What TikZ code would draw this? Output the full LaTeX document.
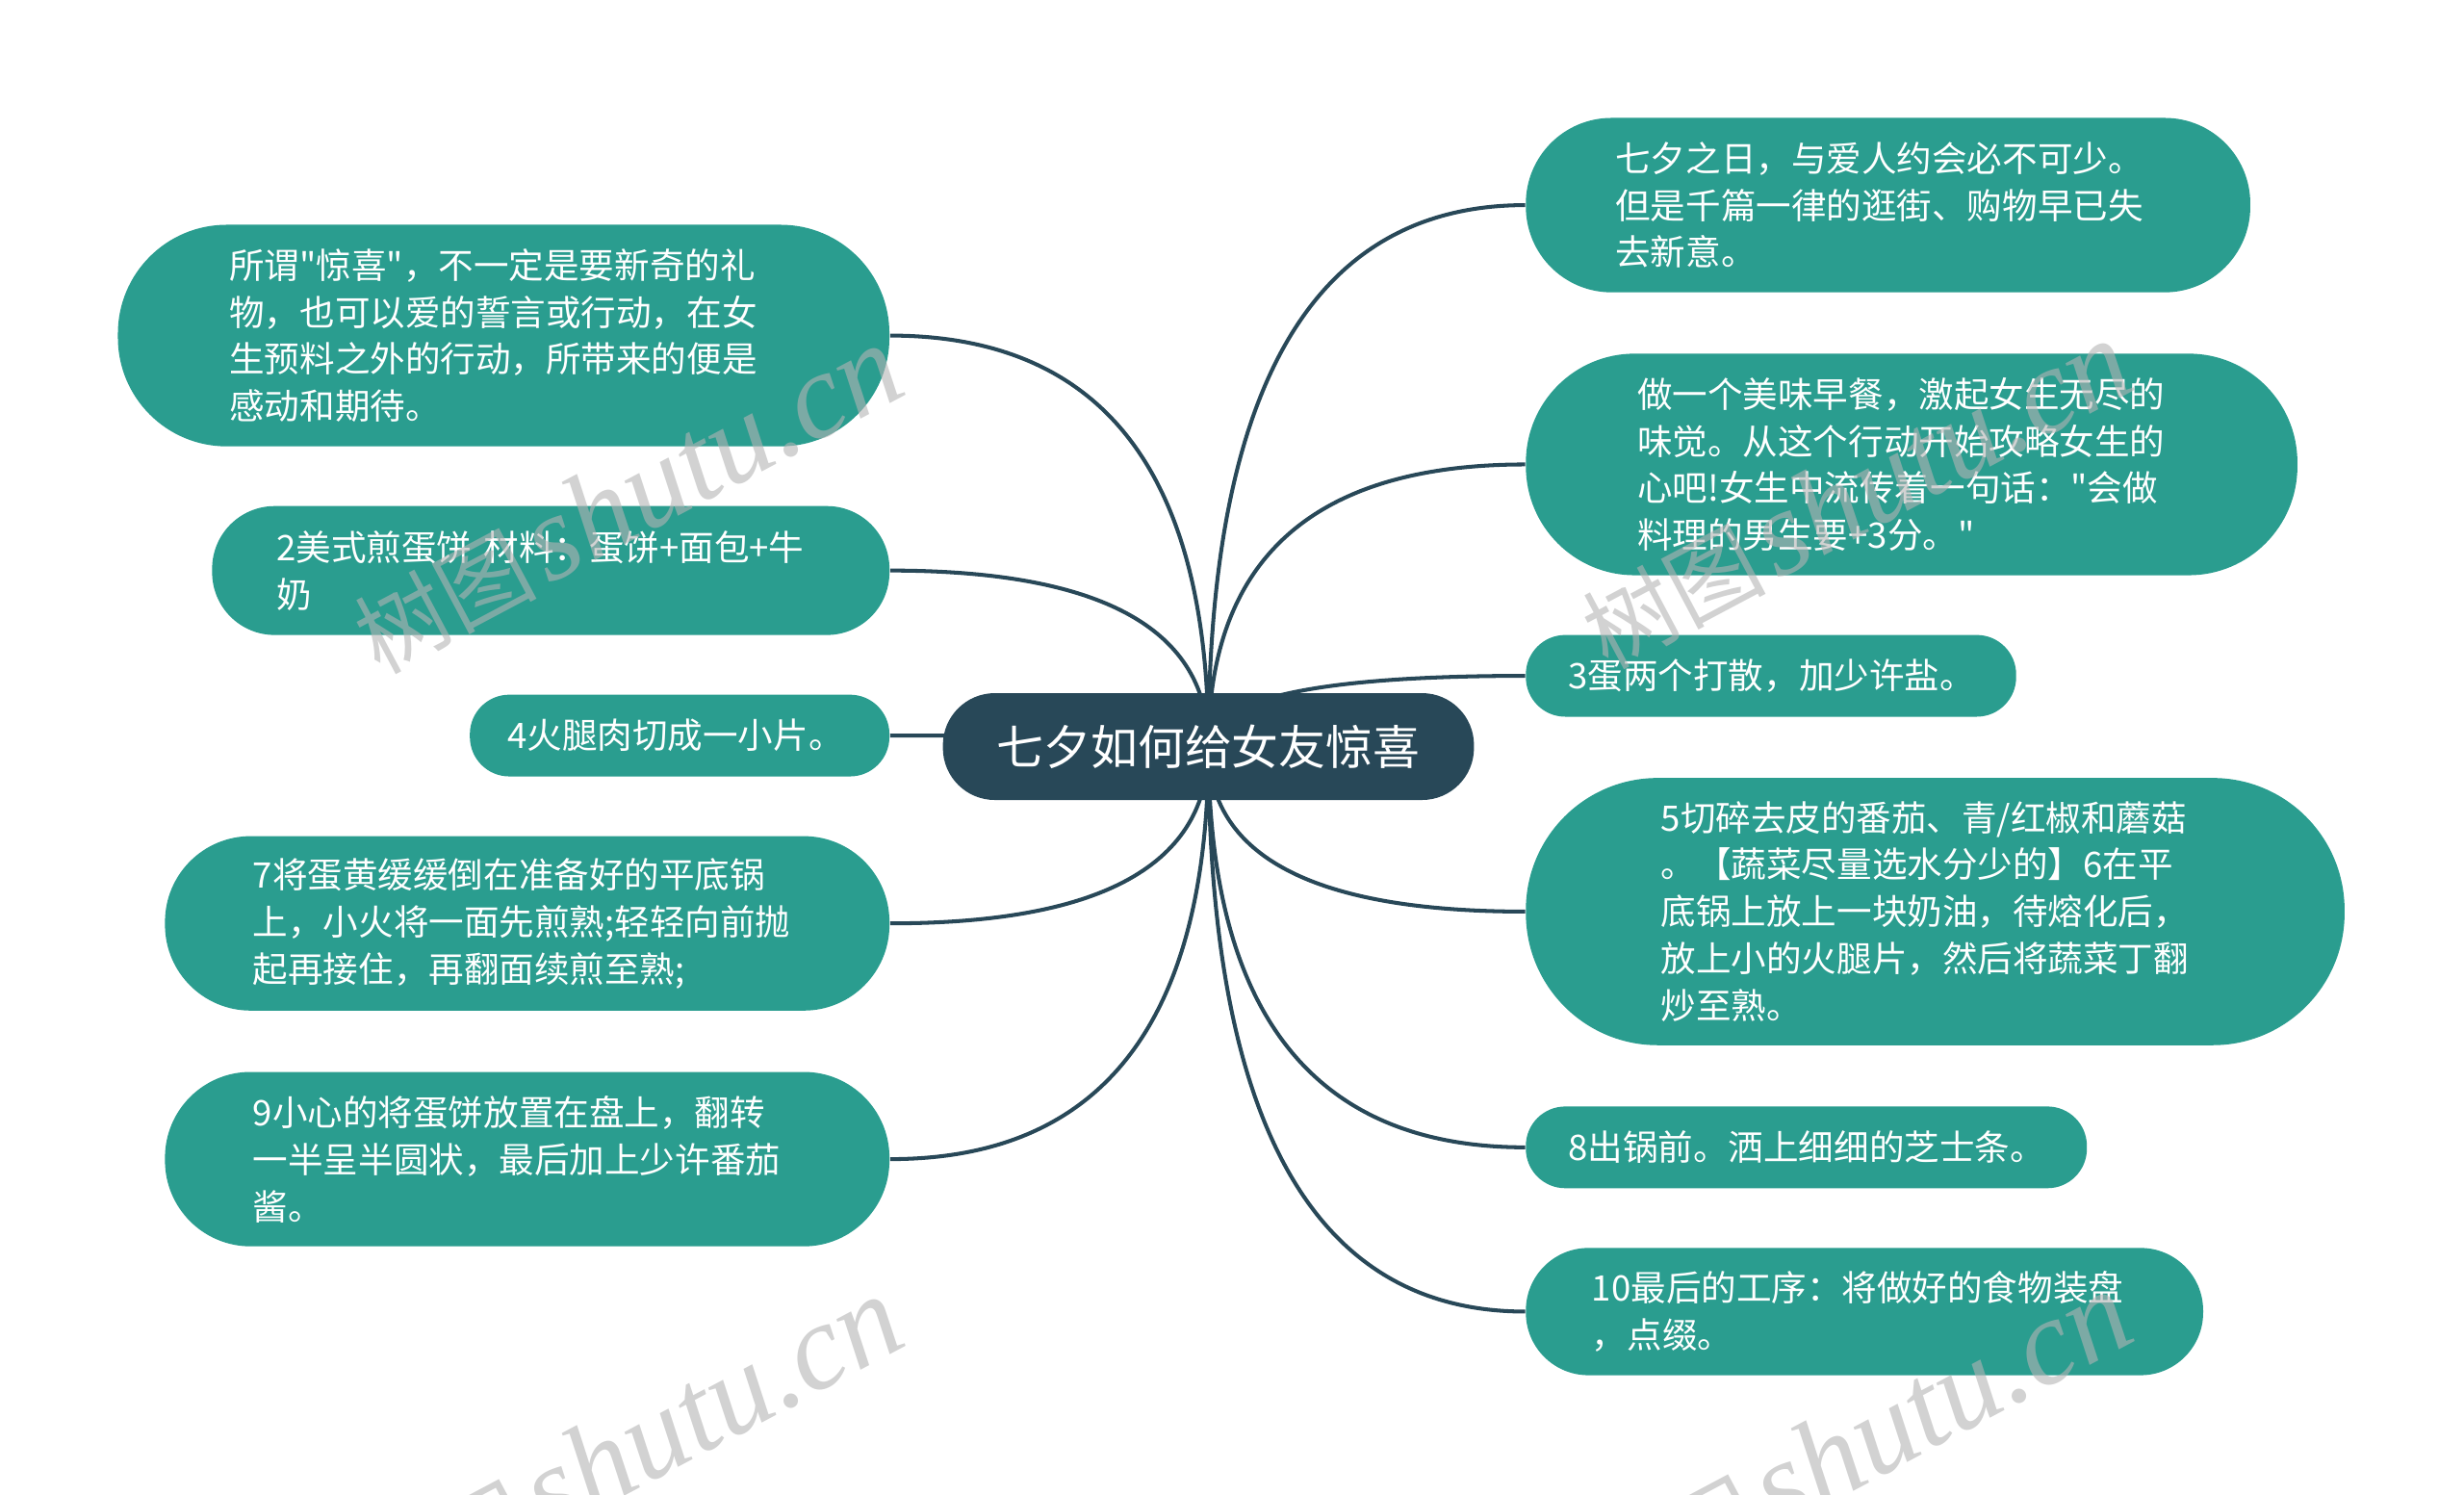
\documentclass[tikz,border=0pt]{standalone}
\usepackage{fontspec}
\newfontfamily\cjk{Noto Sans CJK SC}
\newfontfamily\wmserif{Liberation Serif}
\usetikzlibrary{calc}
\definecolor{teal1}{HTML}{2A9D8F}
\definecolor{dark1}{HTML}{284858}
\definecolor{wm}{RGB}{180,180,180}
\pgfdeclarelayer{bg}
\pgfsetlayers{bg,main}
\tikzset{
  leaf/.style={fill=teal1, text=white, font=\cjk\fontsize{10.4}{13.9}\selectfont, align=left, inner sep=0pt},
  root/.style={fill=dark1, text=white, font=\cjk\fontsize{13.9}{16}\selectfont, inner sep=0pt,
    minimum width=5.518cm, minimum height=1.110cm, rounded corners=0.54cm},
  link/.style={draw=dark1, line width=1.15pt},
  wmark/.style={text=wm, opacity=0.6, rotate=28, inner sep=0pt}
}
\newcommand\linkto[1]{%
  \draw[link] (C.center) .. controls ($(C.center)!0.6667!(C.center|-#1)$) and ($(#1)!0.6667!(C.center|-#1)$) .. (#1);}
\newcommand\wmtext{{\fontsize{27}{27}\selectfont\cjk 树图}\hspace{3pt}{\fontsize{36}{36}\selectfont\wmserif\itshape shutu.cn}}
\begin{document}
\begin{tikzpicture}[x=0.0163265cm, y=-0.0163265cm]
\useasboundingbox (0,0) rectangle (1568,951);

% root
\node[root] (C) at (769,475) {七夕如何给女友惊喜};

% left nodes
\node[leaf, minimum width=8.016cm, minimum height=2.302cm, rounded corners=1.13cm, text width=5.698cm] (L1) at (320.5,213.5)
  {所谓"惊喜"，不一定是要新奇的礼\\物，也可以爱的誓言或行动，在女\\生预料之外的行动，所带来的便是\\感动和期待。};
\node[leaf, minimum width=7.037cm, minimum height=1.339cm, rounded corners=0.65cm, text width=5.698cm] (L2) at (350.5,363)
  {2美式煎蛋饼~材料：蛋饼+面包+牛\\奶};
\node[leaf, minimum width=4.359cm, minimum height=0.849cm, rounded corners=0.41cm, text width=3.576cm] (L3) at (432.5,468)
  {4火腿肉切成一小片。};
\node[leaf, minimum width=7.527cm, minimum height=1.812cm, rounded corners=0.89cm, text width=5.698cm] (L4) at (335.5,587.5)
  {7将蛋黄缓缓倒在准备好的平底锅\\上，小火将一面先煎熟;轻轻向前抛\\起再接住，再翻面续煎至熟;};
\node[leaf, minimum width=7.527cm, minimum height=1.812cm, rounded corners=0.89cm, text width=5.698cm] (L5) at (335.5,737.5)
  {9小心的将蛋饼放置在盘上，翻转\\一半呈半圆状，最后加上少许番茄\\酱。};

% right nodes
\node[leaf, minimum width=7.527cm, minimum height=1.812cm, rounded corners=0.89cm, text width=5.665cm] (R1) at (1201.5,130.5)
  {七夕之日，与爱人约会必不可少。\\但是千篇一律的逛街、购物早已失\\去新意。};
\node[leaf, minimum width=8.016cm, minimum height=2.302cm, rounded corners=1.13cm, text width=5.698cm] (R2) at (1216.5,295.5)
  {做一个美味早餐，激起女生无尽的\\味觉。从这个行动开始攻略女生的\\心吧!女生中流传着一句话："会做\\料理的男生要+3分。"};
\node[leaf, minimum width=5.094cm, minimum height=0.849cm, rounded corners=0.41cm, text width=4.212cm] (R3) at (1127,430)
  {3蛋两个打散，加少许盐。};
\node[leaf, minimum width=8.506cm, minimum height=2.776cm, rounded corners=1.37cm, text width=5.698cm] (R4) at (1231.5,580)
  {5切碎去皮的番茄、青/红椒和蘑菇\\。【蔬菜尽量选水分少的】6在平\\底锅上放上一块奶油，待熔化后，\\放上小的火腿片，然后将蔬菜丁翻\\炒至熟。};
\node[leaf, minimum width=5.829cm, minimum height=0.849cm, rounded corners=0.41cm, text width=4.947cm] (R5) at (1149.5,730)
  {8出锅前。洒上细细的芝士条。};
\node[leaf, minimum width=7.037cm, minimum height=1.322cm, rounded corners=0.65cm, text width=5.665cm] (R6) at (1186.5,834.5)
  {10最后的工序：将做好的食物装盘\\，点缀。};

% background and connectors
\begin{pgfonlayer}{bg}
\fill[white] (0,0) rectangle (1568,951);
\linkto{L1.east}
\linkto{L2.east}
\linkto{L3.east}
\linkto{L4.east}
\linkto{L5.east}
\linkto{R1.west}
\linkto{R2.west}
\linkto{R3.west}
\linkto{R4.west}
\linkto{R5.west}
\linkto{R6.west}
\end{pgfonlayer}

% watermarks
\node[wmark] (W1) at (399,318) {\wmtext};
\node[wmark] (W2) at (1181,315) {\wmtext};
\node[wmark] (W3) at (399,923) {\wmtext};
\node[wmark] (W4) at (1181,920) {\wmtext};
\end{tikzpicture}
\end{document}
